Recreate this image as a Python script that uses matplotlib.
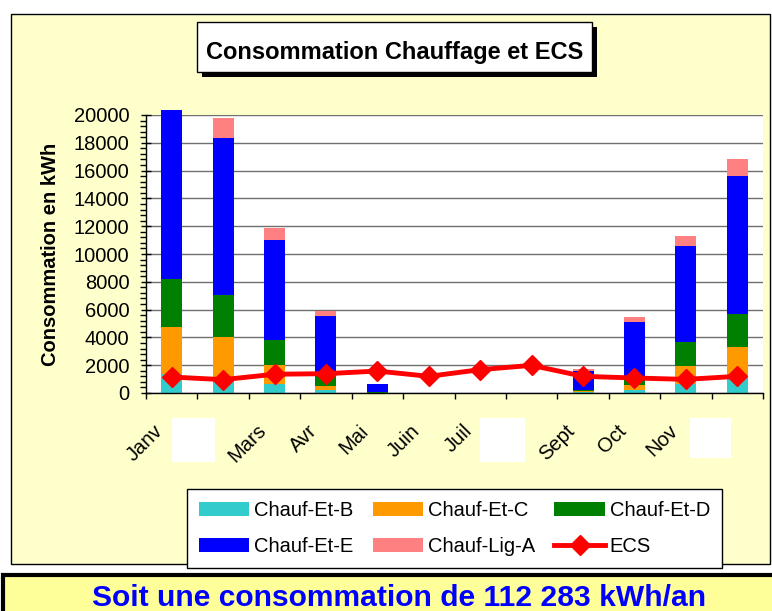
import numpy as np
import matplotlib
matplotlib.use("Agg")
import matplotlib.pyplot as plt
from matplotlib import font_manager
from matplotlib.patches import Rectangle
from matplotlib.ticker import MultipleLocator
from matplotlib.transforms import ScaledTranslation

# monthly values, kWh
months = ["Janv", "Févr", "Mars", "Avr", "Mai", "Juin",
          "Juil", "Août", "Sept", "Oct", "Nov", "Déc"]
chauf_et_b = [1390, 1000, 620, 190, 10, 0, 0, 0, 40, 220, 670, 1100]
chauf_et_c = [3340, 3000, 1370, 290, 20, 0, 0, 0, 80, 330, 1250, 2190]
chauf_et_d = [3460, 3030, 1830, 910, 40, 0, 0, 0, 120, 650, 1750, 2400]
chauf_et_e = [12170, 11310, 7180, 4130, 560, 0, 0, 0, 1320, 3890, 6890, 9910]
chauf_lig_a = [0, 1450, 860, 360, 30, 0, 0, 0, 140, 360, 720, 1230]
ecs = [1150, 960, 1350, 1390, 1580, 1200, 1680, 1990, 1200, 1080, 980, 1200]
y_ticks = list(range(0, 20001, 2000))

series = [("Chauf-Et-B", chauf_et_b, "#33CCCC"),
          ("Chauf-Et-C", chauf_et_c, "#FF9900"),
          ("Chauf-Et-D", chauf_et_d, "#008000"),
          ("Chauf-Et-E", chauf_et_e, "#0000FF"),
          ("Chauf-Lig-A", chauf_lig_a, "#FF8080")]


def has_font(name):
    try:
        font_manager.findfont(font_manager.FontProperties(family=name),
                              fallback_to_default=False)
        return True
    except ValueError:
        return False


plt.rcParams['font.family'] = ['Liberation Sans', 'DejaVu Sans']

W, H = 772, 611
fig = plt.figure(figsize=(W / 100, H / 100), dpi=100, facecolor="white")


def fig_rect(x0, y0, x1, y1, **kw):
    # rectangle given in pixel coords, y from the top
    return Rectangle((x0 / W, 1 - y1 / H), (x1 - x0) / W, (y1 - y0) / H,
                     transform=fig.transFigure, **kw)


# chart area and the summary box underneath
fig.add_artist(fig_rect(11, 14, 770, 564, facecolor="#FFFFCC",
                        edgecolor="black", lw=1, zorder=-2))
fig.add_artist(fig_rect(3, 575, 790, 640, facecolor="#FFFF99",
                        edgecolor="black", lw=3, zorder=-2))

ax = fig.add_axes([146 / W, 1 - 393 / H, 617 / W, 278 / H])
ax.set_facecolor("white")

x = np.arange(len(months))
bottom = np.zeros(len(months))
handles = {}
for name, vals, col in series:
    bars = ax.bar(x, vals, width=0.41, bottom=bottom, color=col,
                  linewidth=0, label=name, clip_on=False, zorder=2)
    handles[name] = bars
    bottom += np.array(vals)

line, = ax.plot(x, ecs, color="#FF0000", lw=3.5, marker="D", ms=10,
                label="ECS", clip_on=False, zorder=3)
handles["ECS"] = line

ax.set_xlim(-0.5, len(months) - 0.5)
ax.set_ylim(0, 20000)
ax.set_yticks(y_ticks)
ax.yaxis.set_minor_locator(MultipleLocator(400))
ax.tick_params(axis="y", which="major", direction="inout", length=7,
               width=1, labelsize=14.5, pad=8.5)
ax.tick_params(axis="y", which="minor", direction="out", length=4, width=1)
ax.yaxis.grid(True, which="major", color="#707070", lw=1)
ax.set_axisbelow(True)

# category boundaries carry the ticks, centres carry the labels
ax.set_xticks(np.arange(-0.5, len(months)), [])
ax.set_xticks(x, months, minor=True)
ax.tick_params(axis="x", which="major", direction="out", length=4.5, width=1)
ax.tick_params(axis="x", which="minor", length=0, labelsize=14.5, pad=25)
shift = ScaledTranslation(-0.115, 0, fig.dpi_scale_trans)
for lab in ax.get_xticklabels(minor=True):
    lab.set_rotation(45)
    lab.set_ha("right")
    lab.set_va("center")
    lab.set_rotation_mode("anchor")
    lab.set_transform(lab.get_transform() + shift)

for s in ["top", "right"]:
    ax.spines[s].set_visible(False)
for s in ["left", "bottom"]:
    ax.spines[s].set_color("black")
    ax.spines[s].set_linewidth(1)

ax.set_ylabel("Consommation en kWh", fontsize=14.5, fontweight="bold",
              labelpad=10)

# white patches hiding three month labels, as in the original
for x0, x1, y1 in [(172, 215, 462), (480, 525, 462), (690, 731, 458)]:
    fig.add_artist(fig_rect(x0, 418, x1, y1, facecolor="white",
                            edgecolor="none", zorder=10))

# title box with drop shadow
fig.add_artist(fig_rect(202, 27, 597, 77, facecolor="black",
                        edgecolor="none", zorder=5))
fig.add_artist(fig_rect(197, 22, 592, 72, facecolor="white",
                        edgecolor="black", lw=1, zorder=6))
if has_font("Liberation Sans Narrow"):
    tfam, tsize = ["Liberation Sans Narrow", "DejaVu Sans"], 21.5
else:
    tfam, tsize = ["Liberation Sans", "DejaVu Sans"], 17
fig.text(395 / W, 1 - 59 / H, "Consommation Chauffage et ECS",
         family=tfam, fontsize=tsize, fontweight="bold",
         ha="center", va="baseline", zorder=7)

order = ["Chauf-Et-B", "Chauf-Et-E", "Chauf-Et-C", "Chauf-Lig-A",
         "Chauf-Et-D", "ECS"]
leg = fig.legend([handles[k] for k in order], order, ncol=3,
                 loc="upper left", bbox_to_anchor=(187 / W, 1 - 489 / H),
                 fontsize=14.5, frameon=True, fancybox=False,
                 edgecolor="black", framealpha=1, handlelength=2.5,
                 handleheight=0.7, handletextpad=0.25, columnspacing=0.95,
                 borderpad=0.6, labelspacing=0.85, borderaxespad=0)
leg.get_frame().set_linewidth(1)

fig.text(399 / W, 1 - 606 / H, "Soit une consommation de 112 283 kWh/an",
         fontsize=21.6, fontweight="bold", color="#0000FF",
         ha="center", va="baseline")

fig.savefig("out.png", dpi=100, facecolor="white")
